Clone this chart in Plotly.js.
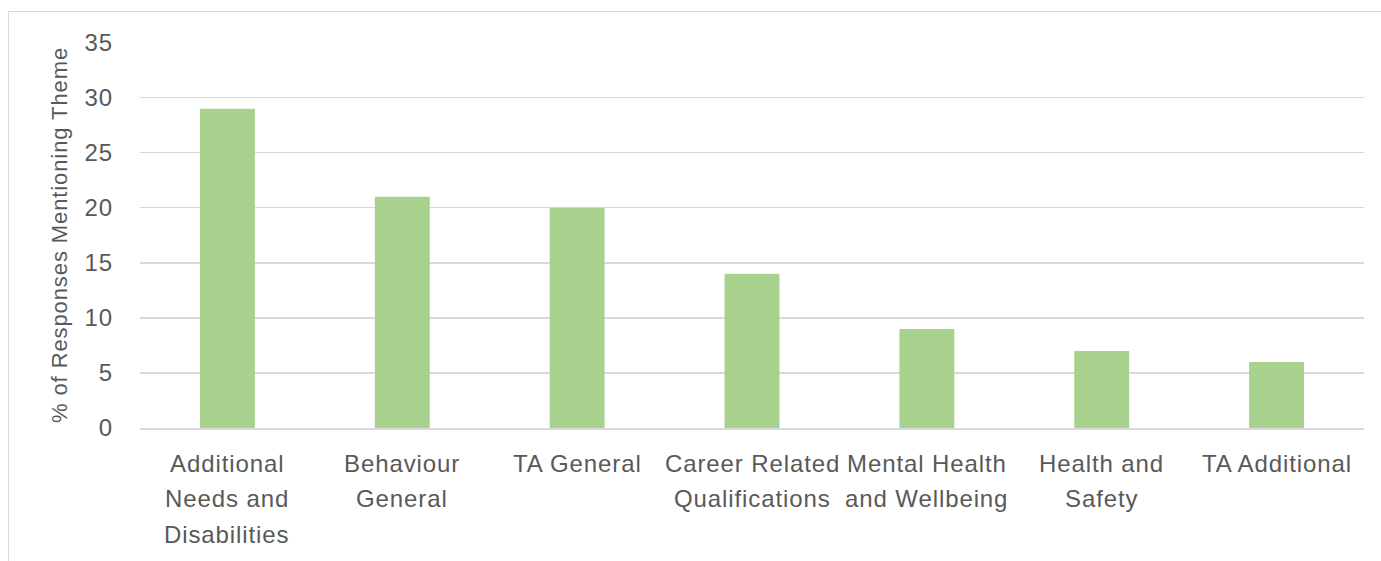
<!DOCTYPE html>
<html>
<head>
<meta charset="utf-8">
<script src="https://cdn.plot.ly/plotly-3.0.1.min.js"></script>
<style>
html,body{margin:0;padding:0;background:#fff;overflow:hidden;}
#frame{position:absolute;left:8px;top:11px;width:1400px;height:600px;border:1.5px solid #d9d9d9;box-sizing:border-box;}
#chart{position:absolute;left:0;top:0;width:1381px;height:561px;}
text{letter-spacing:0.9px;}
</style>
</head>
<body>
<div id="frame"></div>
<div id="chart"></div>
<script>
const categories = ["Additional Needs and Disabilities", "Behaviour General", "TA General", "Career Related Qualifications", "Mental Health and Wellbeing", "Health and Safety", "TA Additional"];
const labelLines = [
  ["Additional", "Needs and", "Disabilities"],
  ["Behaviour", "General"],
  ["TA General"],
  ["Career Related", "Qualifications"],
  ["Mental Health", "and Wellbeing"],
  ["Health and", "Safety"],
  ["TA Additional"]
];
const values = [29, 21, 20, 14, 9, 7, 6];
const yTicks = [0, 5, 10, 15, 20, 25, 30, 35];
const yTitle = "% of Responses Mentioning Theme";

const textColor = "#595959";
const fontFamily = "Liberation Sans, Arial, sans-serif";

const annotations = [];
labelLines.forEach((lines, ci) => {
  lines.forEach((ln, li) => {
    annotations.push({
      x: categories[ci], xref: "x", y: 0, yref: "paper",
      yanchor: "top", xanchor: "center",
      yshift: -19.5 - li * 35.5,
      text: ln, showarrow: false,
      font: {family: fontFamily, size: 24, color: textColor}
    });
  });
});

const trace = {
  type: "bar",
  x: categories,
  y: values,
  marker: {color: "#a9d18e"},
  hoverinfo: "x+y"
};

const layout = {
  width: 1381, height: 561,
  margin: {l: 140, r: 17, t: 41.5, b: 133},
  paper_bgcolor: "rgba(0,0,0,0)",
  plot_bgcolor: "rgba(0,0,0,0)",
  bargap: 0.686,
  showlegend: false,
  font: {family: fontFamily, color: textColor},
  xaxis: {
    showticklabels: false,
    showgrid: false,
    showline: true,
    linecolor: "#d9d9d9",
    linewidth: 1.5,
    ticks: "",
    fixedrange: true
  },
  yaxis: {
    range: [0, 35.05],
    tickvals: yTicks,
    ticktext: yTicks.map(String),
    showgrid: true,
    gridcolor: "#d9d9d9",
    gridwidth: 1.5,
    zeroline: false,
    showline: false,
    ticks: "",
    ticklabelstandoff: 26,
    tickfont: {family: fontFamily, size: 24, color: textColor},
    title: {text: yTitle + "\u00a0\u00a0\u00a0", font: {family: fontFamily, size: 22, color: textColor}, standoff: 10},
    fixedrange: true
  },
  annotations: annotations
};

Plotly.newPlot("chart", [trace], layout, {displayModeBar: false, staticPlot: true});
</script>
</body>
</html>
